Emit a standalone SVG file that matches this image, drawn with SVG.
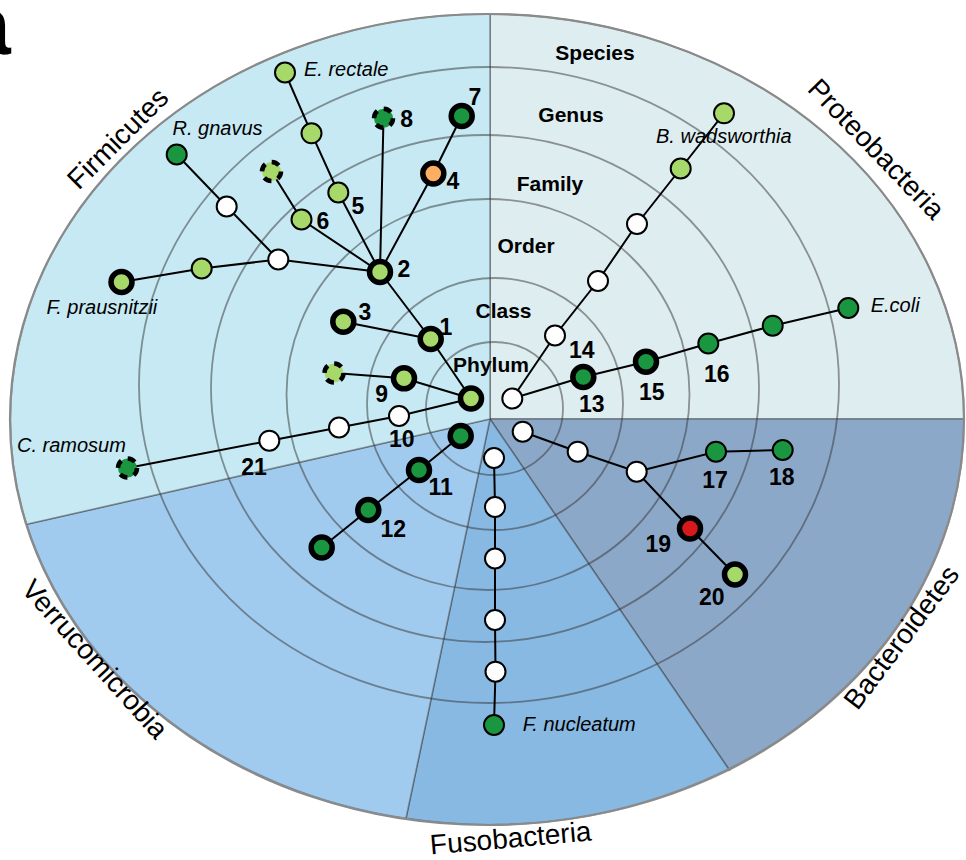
<svg xmlns="http://www.w3.org/2000/svg" width="966" height="860" viewBox="0 0 966 860">
<style>
.sec{stroke:#333;stroke-opacity:0.45;stroke-width:1.6}
.ring{fill:none;stroke:#333;stroke-opacity:0.5;stroke-width:1.8}
.outer{fill:none;stroke:#8a8a8a;stroke-width:2.2}
.edge{fill:none;stroke:#000;stroke-width:2}
.lg{fill:#A6D96A}.dg{fill:#1A9641}.or{fill:#FDAE61}.rd{fill:#D7191C}.wh{fill:#fff}
.thin{stroke:#000;stroke-width:2}
.thick{stroke:#000;stroke-width:5.5}
.dash{stroke:#000;stroke-width:4.5;stroke-dasharray:8 6.9}
.panel{font-family:"Liberation Sans",Arial,sans-serif;font-weight:bold;font-size:84px;fill:#000}
.num{font-family:"Liberation Sans",Arial,sans-serif;font-weight:bold;font-size:23px;text-anchor:middle;fill:#000}
.lvl{font-family:"Liberation Sans",Arial,sans-serif;font-weight:bold;font-size:21px;text-anchor:middle;fill:#000}
.sp{font-family:"Liberation Sans",Arial,sans-serif;font-style:italic;font-size:20px;fill:#000}
.phy{font-family:"Liberation Sans",Arial,sans-serif;font-size:28px;text-anchor:middle;fill:#000}
</style>
<rect width="966" height="860" fill="#fff"/>
<text class="panel" x="-36" y="54">a</text>

<g id="sectors">
<path id="sec-proteobacteria" class="sec" fill="#DEEEF0" d="M490 419 L490 14 A477 405.5 0 0 1 964 419 Z"/>
<path id="sec-bacteroidetes" class="sec" fill="#8CA8C9" d="M490 419 L964 419 A477 405.5 0 0 1 729.3 770 Z"/>
<path id="sec-fusobacteria" class="sec" fill="#88B9E2" d="M490 419 L729.3 770 A477 405.5 0 0 1 406 818.3 Z"/>
<path id="sec-verrucomicrobia" class="sec" fill="#A1CBEE" d="M490 419 L406 818.3 A477 405.5 0 0 1 26.7 524.3 Z"/>
<path id="sec-firmicutes" class="sec" fill="#C6E9F3" d="M490 419 L26.7 524.3 A477 405.5 0 0 1 490 14 Z"/>
</g>
<g id="rings">
<ellipse class="ring" cx="494.5" cy="408.5" rx="68.5" ry="66.5"/>
<ellipse class="ring" cx="495" cy="404" rx="128" ry="126"/>
<ellipse class="ring" cx="488" cy="394.5" rx="201.5" ry="195.5"/>
<ellipse class="ring" cx="485" cy="388.5" rx="274" ry="253.5"/>
<ellipse class="ring" cx="489" cy="385" rx="350" ry="318"/>
<ellipse class="outer" cx="487" cy="419.5" rx="477" ry="405.5"/>
</g>

<g id="level-labels">
<text class="lvl" x="595" y="60">Species</text>
<text class="lvl" x="571" y="122">Genus</text>
<text class="lvl" x="550" y="190.5">Family</text>
<text class="lvl" x="526" y="252.5">Order</text>
<text class="lvl" x="503.5" y="317.5">Class</text>
<text class="lvl" x="491" y="372">Phylum</text>
</g>

<g id="phylum-labels">
<text class="phy" transform="translate(124.5 145) rotate(-45)">Firmicutes</text>
<text class="phy" transform="translate(869.5 155.5) rotate(46)">Proteobacteria</text>
<text class="phy" transform="translate(909 643) rotate(-53)">Bacteroidetes</text>
<text class="phy" transform="translate(511.5 847.5) rotate(-5)">Fusobacteria</text>
<text class="phy" transform="translate(88 665.5) rotate(48)">Verrucomicrobia</text>
</g>

<g id="connectors">
<polyline class="edge" points="471,398.5 430.7,339 380,272"/>
<line class="edge" x1="430.7" y1="339" x2="343.3" y2="321.7"/>
<polyline class="edge" points="471,398.5 404,378.3 334,373"/>
<polyline class="edge" points="471,398.5 399,416 339,427.5 269.3,440.7 127.5,468"/>
<polyline class="edge" points="380,272 433.3,173.5 461.7,116"/>
<line class="edge" x1="380" y1="272" x2="383.5" y2="118.3"/>
<polyline class="edge" points="380,272 338.3,192.5 311.5,133.3 285,72.5"/>
<polyline class="edge" points="380,272 301.5,219.5 271.5,171.5"/>
<polyline class="edge" points="380,272 278.3,259.5 201.7,268.5 121.5,282"/>
<polyline class="edge" points="278.3,259.5 226.7,206.5 176.7,154.5"/>
<polyline class="edge" points="512.3,398.5 555,335.5 598,281 637,224 680.7,168.5 724,113.3"/>
<polyline class="edge" points="512.3,398.5 583.3,377 646,361.7 708.3,343.5 772.7,325.7 848.3,308"/>
<polyline class="edge" points="522.7,431.7 577.7,451.7 636.7,471.7 716,451.7 782.7,450"/>
<polyline class="edge" points="636.7,471.7 690,528.5 735,574.5"/>
<polyline class="edge" points="460.7,436 419,470 368.3,510 321.7,547.5"/>
<polyline class="edge" points="494,458 495,507 495,558.5 495,620 495.5,671.7 494,725"/>
</g>

<g id="nodes">
<g id="node-firmicutes-phylum"><circle class="lg thick" cx="471" cy="398.5" r="10.5"/></g>
<g id="node-1"><circle class="lg thick" cx="430.7" cy="339" r="10.5"/><text class="num" x="446" y="334.5">1</text></g>
<g id="node-9"><circle class="lg thick" cx="404" cy="378.3" r="10.5"/><text class="num" x="381.7" y="401.5">9</text></g>
<g id="node-9a"><circle class="lg dash" cx="334" cy="373" r="9.5"/></g>
<g id="node-10"><circle class="wh thin" cx="399" cy="416" r="10"/><text class="num" x="401.7" y="446.5">10</text></g>
<g id="node-10a"><circle class="wh thin" cx="339" cy="427.5" r="10"/></g>
<g id="node-21"><circle class="wh thin" cx="269.3" cy="440.7" r="10"/><text class="num" x="254" y="475">21</text></g>
<g id="node-c-ramosum"><circle class="dg dash" cx="127.5" cy="468" r="9.5"/><text class="sp" x="17" y="451.5">C. ramosum</text></g>
<g id="node-3"><circle class="lg thick" cx="343.3" cy="321.7" r="10.5"/><text class="num" x="365" y="320">3</text></g>
<g id="node-2"><circle class="lg thick" cx="380" cy="272" r="10.5"/><text class="num" x="404" y="276.5">2</text></g>
<g id="node-4"><circle class="or thick" cx="433.3" cy="173.5" r="10.5"/><text class="num" x="453" y="188.5">4</text></g>
<g id="node-7"><circle class="dg thick" cx="461.7" cy="116" r="10.5"/><text class="num" x="475" y="105">7</text></g>
<g id="node-8"><circle class="dg dash" cx="383.5" cy="118.3" r="9.5"/><text class="num" x="406.7" y="126.5">8</text></g>
<g id="node-5"><circle class="lg thin" cx="338.3" cy="192.5" r="10"/><text class="num" x="358" y="213.5">5</text></g>
<g id="node-5a"><circle class="lg thin" cx="311.5" cy="133.3" r="10"/></g>
<g id="node-e-rectale"><circle class="lg thin" cx="285" cy="72.5" r="10"/><text class="sp" x="304" y="76">E. rectale</text></g>
<g id="node-6"><circle class="lg thin" cx="301.5" cy="219.5" r="10"/><text class="num" x="323" y="228.5">6</text></g>
<g id="node-6a"><circle class="lg dash" cx="271.5" cy="171.5" r="9.5"/></g>
<g id="node-2w"><circle class="wh thin" cx="278.3" cy="259.5" r="10"/></g>
<g id="node-2wa"><circle class="lg thin" cx="201.7" cy="268.5" r="10"/></g>
<g id="node-f-prausnitzii"><circle class="lg thick" cx="121.5" cy="282" r="10.5"/><text class="sp" x="46.5" y="314">F. prausnitzii</text></g>
<g id="node-2wb"><circle class="wh thin" cx="226.7" cy="206.5" r="10"/></g>
<g id="node-r-gnavus"><circle class="dg thin" cx="176.7" cy="154.5" r="10"/><text class="sp" x="172.5" y="135">R. gnavus</text></g>

<g id="node-proteobacteria-phylum"><circle class="wh thin" cx="512.3" cy="398.5" r="10"/></g>
<g id="node-p1"><circle class="wh thin" cx="555" cy="335.5" r="10"/></g>
<g id="node-p2"><circle class="wh thin" cx="598" cy="281" r="10"/></g>
<g id="node-p3"><circle class="wh thin" cx="637" cy="224" r="10"/></g>
<g id="node-p4"><circle class="lg thin" cx="680.7" cy="168.5" r="10"/></g>
<g id="node-b-wadsworthia"><circle class="lg thin" cx="724" cy="113.3" r="10"/><text class="sp" x="656" y="143">B. wadsworthia</text></g>
<g id="node-13"><circle class="dg thick" cx="583.3" cy="377" r="10.5"/><text class="num" x="581.7" y="358.2">14</text><text class="num" x="591.7" y="411.5">13</text></g>
<g id="node-15"><circle class="dg thick" cx="646" cy="361.7" r="10.5"/><text class="num" x="651.7" y="400">15</text></g>
<g id="node-16"><circle class="dg thin" cx="708.3" cy="343.5" r="10"/><text class="num" x="716.7" y="381.5">16</text></g>
<g id="node-p5"><circle class="dg thin" cx="772.7" cy="325.7" r="10"/></g>
<g id="node-e-coli"><circle class="dg thin" cx="848.3" cy="308" r="10"/><text class="sp" x="870.7" y="311.7">E.coli</text></g>

<g id="node-bacteroidetes-phylum"><circle class="wh thin" cx="522.7" cy="431.7" r="10"/></g>
<g id="node-b1"><circle class="wh thin" cx="577.7" cy="451.7" r="10"/></g>
<g id="node-b2"><circle class="wh thin" cx="636.7" cy="471.7" r="10"/></g>
<g id="node-17"><circle class="dg thin" cx="716" cy="451.7" r="10"/><text class="num" x="715" y="488.2">17</text></g>
<g id="node-18"><circle class="dg thin" cx="782.7" cy="450" r="10"/><text class="num" x="781.7" y="485">18</text></g>
<g id="node-19"><circle class="rd thick" cx="690" cy="528.5" r="10.5"/><text class="num" x="658.3" y="551.5">19</text></g>
<g id="node-20"><circle class="lg thick" cx="735" cy="574.5" r="10.5"/><text class="num" x="711.7" y="605">20</text></g>

<g id="node-verrucomicrobia-phylum"><circle class="dg thick" cx="460.7" cy="436" r="10.5"/></g>
<g id="node-11"><circle class="dg thick" cx="419" cy="470" r="10.5"/><text class="num" x="440.7" y="495">11</text></g>
<g id="node-12"><circle class="dg thick" cx="368.3" cy="510" r="10.5"/><text class="num" x="393.3" y="536.5">12</text></g>
<g id="node-v3"><circle class="dg thick" cx="321.7" cy="547.5" r="10.5"/></g>

<g id="node-fusobacteria-phylum"><circle class="wh thin" cx="494" cy="458" r="10"/></g>
<g id="node-u1"><circle class="wh thin" cx="495" cy="507" r="10"/></g>
<g id="node-u2"><circle class="wh thin" cx="495" cy="558.5" r="10"/></g>
<g id="node-u3"><circle class="wh thin" cx="495" cy="620" r="10"/></g>
<g id="node-u4"><circle class="wh thin" cx="495.5" cy="671.7" r="10"/></g>
<g id="node-f-nucleatum"><circle class="dg thin" cx="494" cy="725" r="10"/><text class="sp" x="522.7" y="731">F. nucleatum</text></g>
</g>
</svg>
